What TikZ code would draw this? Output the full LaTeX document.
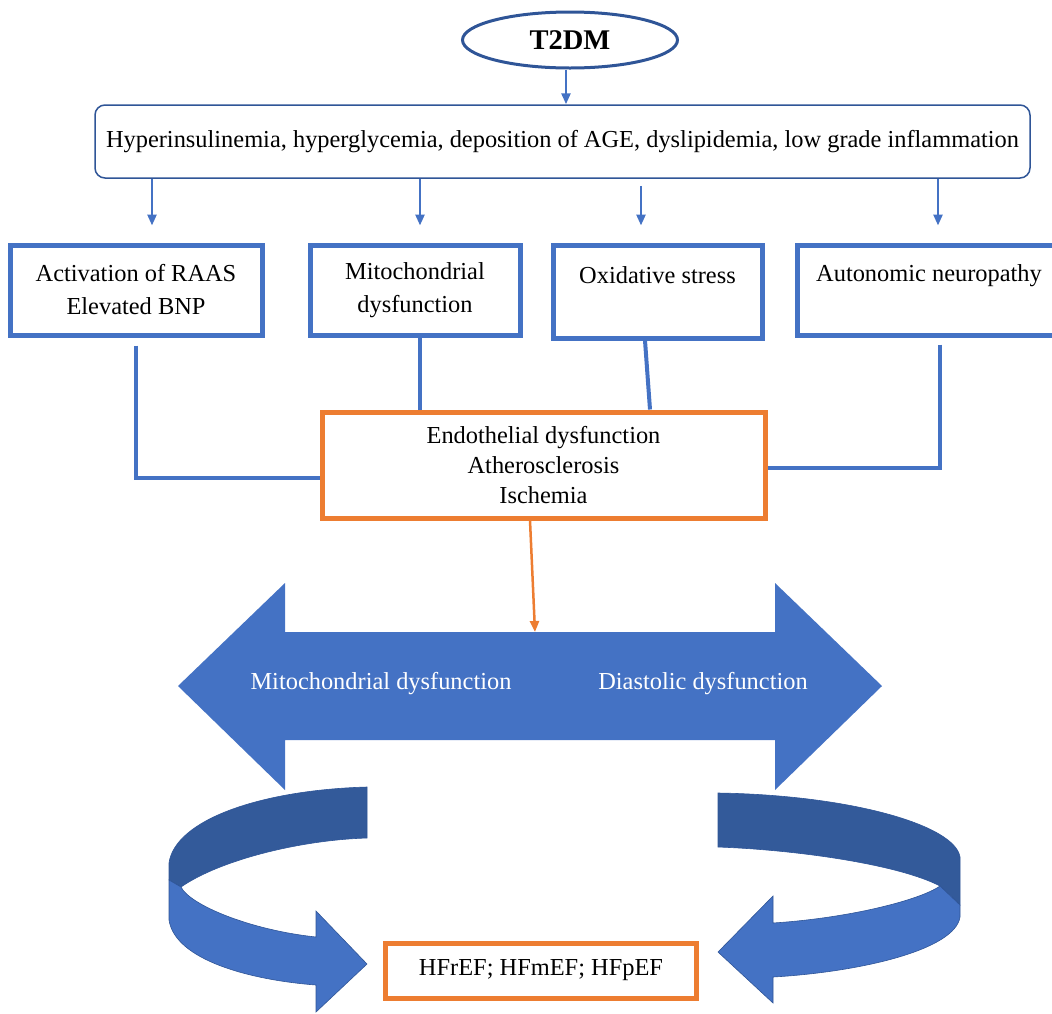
\documentclass[tikz,border=0pt]{standalone}
\usepackage{fontspec}
\setmainfont{Liberation Serif}
\usetikzlibrary{arrows.meta,shapes.geometric}
\definecolor{pptblue}{RGB}{68,114,196}
\definecolor{pptdark}{RGB}{47,85,151}
\definecolor{pptband}{RGB}{51,90,154}
\definecolor{pptorange}{RGB}{237,125,49}
\tikzset{
  bluebox/.style={draw=pptblue, line width=5pt, minimum width=#1, minimum height=90pt, align=center, inner sep=0pt, font=\fontsize{24.4}{33}\selectfont},
  orangebox/.style={draw=pptorange, line width=5pt, align=center, inner sep=0pt},
  conn/.style={draw=pptblue, line width=4pt},
  arr/.style={draw=pptblue, line width=2.5pt, -{Triangle[length=11pt,width=9pt]}},
}
\begin{document}
\begin{tikzpicture}[x=1pt,y=-1pt]
\useasboundingbox (0,0) rectangle (1052,1013);

%Shape: Ellipse [T2DM]
\node (t2dm) [ellipse, draw=pptdark, line width=3pt, minimum width=215pt, minimum height=56pt, inner sep=0pt, font=\fontsize{28.5}{32}\selectfont\bfseries] at (570,40) {T2DM};
%Shape: Rounded Rectangle
\node (risk) [draw=pptdark, line width=1.5pt, rounded corners=10pt, minimum width=935pt, minimum height=73pt, inner sep=0pt, font=\fontsize{24.4}{28}\selectfont] at (562.5,141.5) {Hyperinsulinemia, hyperglycemia, deposition of AGE, dyslipidemia, low grade inflammation};

%Shape: Rectangle (four mechanisms)
\node (raas) [bluebox=252pt] at (136,290) {Activation of RAAS\\Elevated BNP};
\node (mito) [bluebox=210pt] at (415,290) {Mitochondrial\\dysfunction};
\node (oxid) [bluebox=209pt, minimum height=93pt] at (657.5,291.5) {Oxidative stress\\~};
\node (auto) [bluebox=264pt] at (929,290) {Autonomic neuropathy\\~};

%Shape: Rectangle (endothelium)
\node (endo) [orangebox, minimum width=443pt, minimum height=106pt, font=\fontsize{24.4}{30}\selectfont] at (543.5,465) {Endothelial dysfunction\\Atherosclerosis\\Ischemia};

%Straight Lines
\draw [arr] ([xshift=-4pt]t2dm.south) -- ([xshift=-4pt]t2dm.south |- risk.north);
\draw [arr] (risk.south -| 152,0) -- ([yshift=17pt]raas.north -| 152,0);
\draw [arr] (risk.south -| 420,0) -- ([yshift=17pt]mito.north -| 420,0);
\draw [arr] ([yshift=-7pt]risk.south -| 641,0) -- ([yshift=17pt]oxid.north -| 641,0);
\draw [arr] (risk.south -| 938,0) -- ([yshift=17pt]auto.north -| 938,0);

%Straight Lines (into endothelium box)
\draw [conn] ([yshift=-8pt]raas.south) |- ([yshift=-13pt]endo.west);
\draw [conn] ([xshift=5pt]mito.south) -- ([xshift=5pt]mito.south |- endo.north);
\draw [conn] ([xshift=-12.5pt]oxid.south) -- ([xshift=106.5pt]endo.north);
\draw [conn] ([xshift=11pt,yshift=-7pt]auto.south) |- ([yshift=-3pt]endo.east);

%Shape: Left-Right Arrow
\fill [pptblue] (178,686) -- (285,583) -- (285,632) -- (775,632) -- (775,583) -- (882,686) -- (775,790) -- (775,740) -- (285,740) -- (285,790) -- cycle;
\coordinate (shafttop) at (535,632);
\draw [draw=pptorange, line width=2.5pt, -{Triangle[length=11pt,width=9pt]}] ([xshift=-13.5pt]endo.south) -- (shafttop);

% Text Node
\node (mitotxt) [text=white, font=\fontsize{24.4}{28}\selectfont] at (381,684) {Mitochondrial dysfunction};
% Text Node
\node (diastxt) [text=white, font=\fontsize{24.4}{28}\selectfont] at (703,684) {Diastolic dysfunction};

%Shape: Curved Arrow (left)
\filldraw [fill=pptband, draw=pptdark, line width=0.6pt] (367,787) .. controls (260,790) and (175,820) .. (169,863) -- (169,880) -- (181,887) .. controls (220,860) and (300,840) .. (367,838) -- cycle;
\filldraw [fill=pptblue, draw=pptdark, line width=0.6pt] (169,880) -- (169,920) .. controls (175,960) and (250,980) .. (316,985) -- (316,1012) -- (367,964) -- (316,911) -- (316,937) .. controls (250,930) and (190,905) .. (181,887) -- cycle;
%Shape: Curved Arrow (right)
\filldraw [fill=pptband, draw=pptdark, line width=0.6pt] (718,793) .. controls (850,795) and (955,825) .. (960,857) -- (960,905) -- (940,886) .. controls (900,865) and (800,850) .. (718,847) -- cycle;
\filldraw [fill=pptblue, draw=pptdark, line width=0.6pt] (960,905) -- (960,917) .. controls (955,950) and (860,972) .. (773,977) -- (773,1003) -- (718,952) -- (773,896) -- (773,923) .. controls (850,918) and (920,900) .. (940,886) -- cycle;

%Shape: Rectangle (outcome)
\node (hf) [orangebox, minimum width=311pt, minimum height=55pt, font=\fontsize{24.4}{28}\selectfont] at (541,970.5) {HFrEF; HFmEF; HFpEF};

\end{tikzpicture}
\end{document}
